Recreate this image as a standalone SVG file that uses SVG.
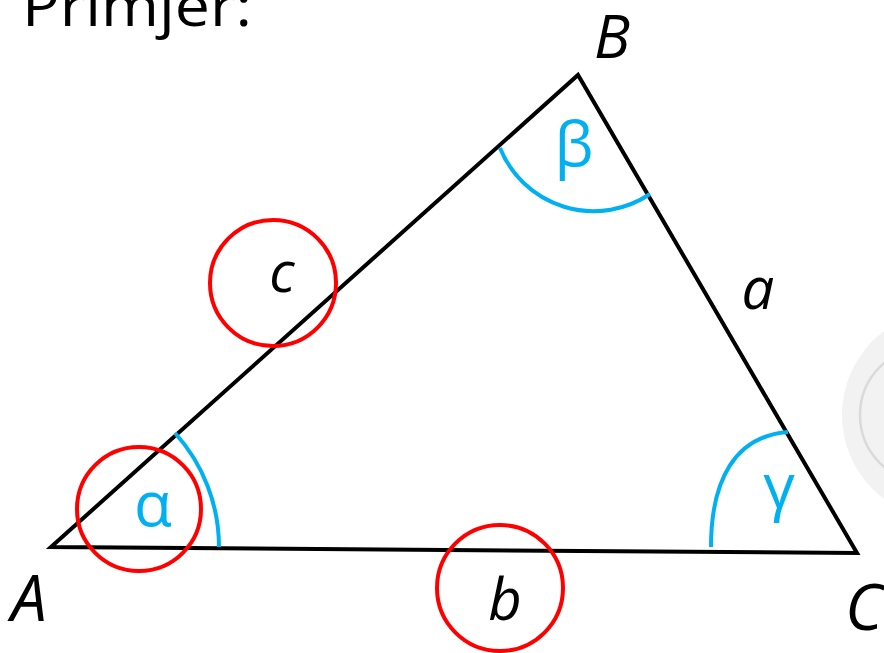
<svg xmlns="http://www.w3.org/2000/svg" width="884" height="653" viewBox="0 0 884 653">
<style>
.edge{fill:none;stroke:#000;stroke-width:4;stroke-linejoin:miter}
.arc{fill:none;stroke:#00b0f0;stroke-width:4}
.ring{fill:none;stroke:#ff0000;stroke-width:4}
.lbl{font-family:"Open Sans","Noto Sans",sans-serif;font-style:italic;fill:#000}
.greek{font-family:"Open Sans","Noto Sans",sans-serif;fill:#00b0f0}
</style>
<rect width="884" height="653" fill="#fff"/>
<g id="bg-button">
<circle cx="947" cy="415" r="105" fill="#f2f2f2"/>
<circle cx="928" cy="415" r="68" fill="none" stroke="#dadada" stroke-width="2.5"/>
</g>
<text id="title" x="22" y="26" font-family="'Open Sans','Noto Sans',sans-serif" font-size="56" textLength="230" lengthAdjust="spacingAndGlyphs" fill="#000">Primjer:</text>
<g id="connectors">
<path class="edge" d="M51,547 L578,75 L857,553 Z"/>
</g>
<g id="angle-alpha">
<path class="arc" d="M175,433 A170,170 0 0 1 219,547"/>
<text class="greek" x="153" y="526" font-size="62" text-anchor="middle">α</text>
</g>
<g id="angle-beta">
<path class="arc" d="M500,148 A101,101 0 0 0 650,194"/>
<text class="greek" x="574" y="166" font-size="62" text-anchor="middle">β</text>
</g>
<g id="angle-gamma">
<path class="arc" d="M711,547 C711,480 735,436 788,432"/>
<text class="greek" x="779" y="508" font-size="62" text-anchor="middle">γ</text>
</g>
<g id="vertex-A"><text class="lbl" x="11" y="621" font-size="64">A</text></g>
<g id="vertex-B"><text class="lbl" x="594" y="58" font-size="60">B</text></g>
<g id="vertex-C"><text class="lbl" x="845" y="630" font-size="64">C</text></g>
<g id="side-a"><text class="lbl" x="758" y="309" font-size="58" text-anchor="middle">a</text></g>
<g id="side-b">
<circle class="ring" cx="500" cy="588" r="63"/>
<text class="lbl" x="505" y="620" font-size="58" text-anchor="middle">b</text>
</g>
<g id="side-c">
<circle class="ring" cx="273" cy="283" r="63"/>
<text class="lbl" x="282" y="292" font-size="56" text-anchor="middle">c</text>
</g>
<g id="alpha-mark">
<circle class="ring" cx="139" cy="509" r="62"/>
</g>
</svg>
